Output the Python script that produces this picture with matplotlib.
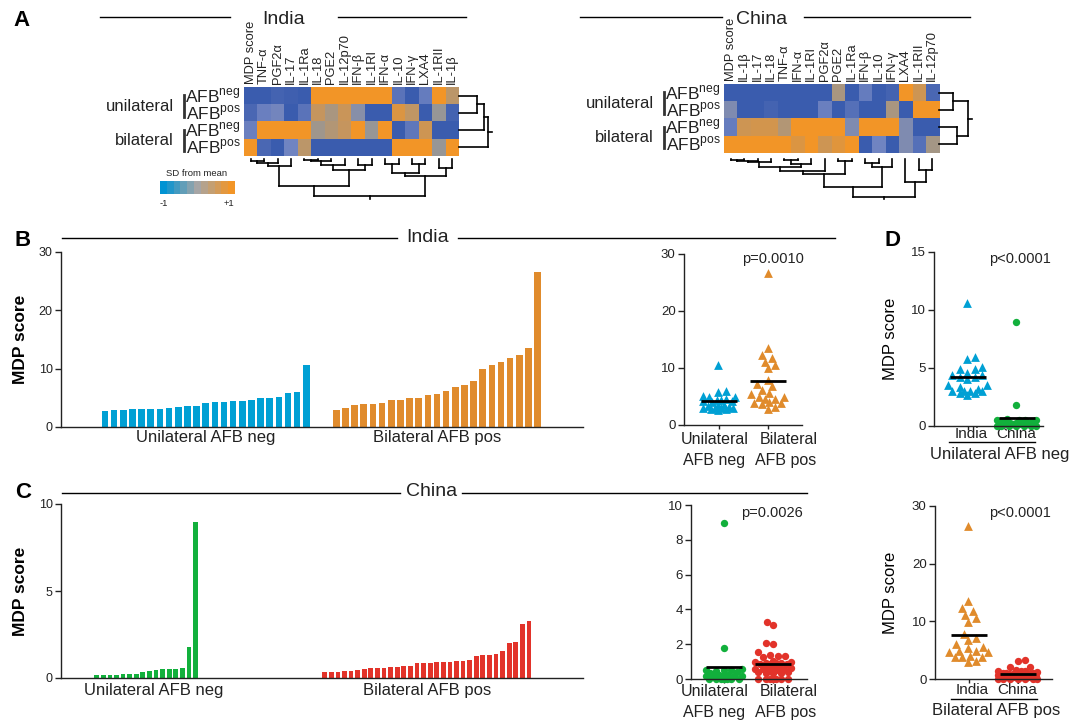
import numpy as np
import matplotlib
matplotlib.use('Agg')
import matplotlib.pyplot as plt
from matplotlib.colors import LinearSegmentedColormap
from matplotlib.transforms import blended_transform_factory

plt.rcParams['font.family'] = ['Liberation Sans', 'DejaVu Sans']
plt.rcParams['mathtext.fontset'] = 'custom'
plt.rcParams['mathtext.rm'] = 'Liberation Sans'
plt.rcParams['text.color'] = '#222222'

W, H = 1084, 721
INK = '#222222'

# ---- heatmap data (SD from mean) ----
row_sides = ['unilateral', 'bilateral']
row_afb = ['neg', 'pos', 'neg', 'pos']

india_cols = ['MDP score', 'TNF-α', 'PGF2α', 'IL-17', 'IL-1Ra', 'IL-18', 'PGE2', 'IL-12p70',
              'IFN-β', 'IL-1RI', 'IFN-α', 'IL-10', 'IFN-γ', 'LXA4', 'IL-1RII', 'IL-1β']
india_uni_neg = [-1, -1, -0.9, -0.95, -1, 1, 1, 1, 1, 1, 1, -0.7, -1, -0.6, 1, 0.4]
india_uni_pos = [-0.85, -0.55, -0.45, -1, -0.7, 0.5, 0.2, 0.55, -0.2, -1, -1, 0.75, 0.45, -1, 0.0, -0.9]
india_bi_neg = [-0.55, 1, 1, 1, 1, 0.1, 0.3, 0.5, 1, 0.0, 1, -1, -0.65, 0.6, -1, -1]
india_bi_pos = [1, -0.85, -1, -0.5, 0.4, -1, -1, -1, -1, -1, -1, 1, 1, 1, 0.0, 1]

china_cols = ['MDP score', 'IL-1β', 'IL-17', 'IL-18', 'TNF-α', 'IFN-α', 'IL-1RI', 'PGF2α',
              'PGE2', 'IL-1Ra', 'IFN-β', 'IL-10', 'IFN-γ', 'LXA4', 'IL-1RII', 'IL-12p70']
china_uni_neg = [-1, -1, -1, -1, -1, -1, -1, -1, 0.2, -1, -0.6, -1, -0.9, 1, 0.6, -0.85]
china_uni_pos = [-0.3, -1, -1, -0.9, -1, -1, -1, -0.55, -1, -0.75, -1, -1, 0.2, -1, 1, 1]
china_bi_neg = [-0.6, 0.6, 0.65, 0.65, 0.3, 1, 1, 1, 1, -0.3, 1, 1, 1, -0.3, -1, -1]
china_bi_pos = [1, 1, 1, 1, 1, 0.75, 1, 0.6, 0.8, 1, -1, -0.5, -1, -0.3, -0.75, 0.15]

# cluster trees: [left, right, height]
india_col_tree = [[[[0, 1, 5], 2, 12], 3, 20],
                  [[[[4, 5, 2], 6, 5], 7, 17], [8, 9, 17], 32], 82]
india_col_tree = [india_col_tree, [[[10, 11, 14], [12, 13, 14], 42], [14, 15, 27], 52], 112]
india_row_tree = [[[0, 1, 53], 2, 76], 3, 88]

china_left = [[[[[[0, 1, 3], 2, 6], 3, 10], [[4, 5, 3], 6, 16], 25], 7, 35], [8, 9, 6], 46]
china_col_tree = [[china_left, [[10, 11, 11], 12, 25], 85], [13, [14, 15, 33], 68], 113]
china_row_tree = [[0, 1, 43], [2, 3, 53], 88]

# ---- MDP scores per patient ----
india_uni_neg_mdp = [2.7, 2.87, 2.87, 3.04, 3.04, 3.04, 3.04, 3.2, 3.4, 3.56, 3.56, 4.07,
                     4.25, 4.25, 4.4, 4.4, 4.6, 4.93, 4.93, 5.1, 5.8, 5.97, 10.6]
india_bi_pos_mdp = [2.87, 3.2, 3.73, 3.9, 3.9, 4.07, 4.6, 4.6, 4.93, 4.93, 5.45, 5.6,
                    6.14, 6.83, 7.17, 7.86, 9.93, 10.6, 11.13, 11.82, 12.33, 13.54, 26.6]
china_uni_neg_mdp = [0.19, 0.19, 0.19, 0.19, 0.25, 0.25, 0.25, 0.37, 0.42, 0.48, 0.54,
                     0.54, 0.54, 0.6, 1.81, 8.96]
china_bi_pos_mdp = [0.37, 0.37, 0.37, 0.42, 0.42, 0.48, 0.54, 0.6, 0.6, 0.6, 0.65, 0.65,
                    0.71, 0.71, 0.88, 0.88, 0.88, 0.94, 0.94, 0.94, 1.0, 1.0, 1.06, 1.29,
                    1.35, 1.35, 1.4, 1.58, 2.04, 2.06, 3.08, 3.25]
# China patients scoring zero (no visible bar, but plotted as dots at 0)
china_uni_neg_zero = [0, 0, 0, 0, 0, 0, 0]
china_bi_pos_zero = [0, 0, 0, 0, 0, 0, 0]

p_b, p_c, p_d1, p_d2 = 'p=0.0010', 'p=0.0026', 'p<0.0001', 'p<0.0001'

BLUE, ORANGE, GREEN, RED = '#00a0d4', '#e08b2c', '#12b03c', '#e2332a'

heat_cmap = LinearSegmentedColormap.from_list(
    'hm', [(0, '#3a5cae'), (0.25, '#7084c2'), (0.5, '#979797'), (1, '#f29527')])
legend_cmap = LinearSegmentedColormap.from_list('lg', ['#0093d3', '#a6a6a6', '#f29527'])

fig = plt.figure(figsize=(W / 100, H / 100), dpi=100)
ax0 = fig.add_axes([0, 0, 1, 1])
ax0.set_xlim(0, W)
ax0.set_ylim(H, 0)
ax0.axis('off')


def px_rect(x0, y0, x1, y1):
    return [x0 / W, 1 - y1 / H, (x1 - x0) / W, (y1 - y0) / H]


def style(ax, fs=9):
    for s in ['top', 'right']:
        ax.spines[s].set_visible(False)
    for s in ['left', 'bottom']:
        ax.spines[s].set_linewidth(1.0)
        ax.spines[s].set_color(INK)
    ax.tick_params(direction='out', length=4, width=1, labelsize=fs, color=INK,
                   labelcolor=INK, pad=2)
    ax.patch.set_visible(False)


def draw_tree(ax, node, orient, stub):
    def rec(n):
        if isinstance(n, int):
            return n + 0.5, 0
        l, r, h = n
        pl, hl = rec(l)
        pr, hr = rec(r)
        for a, b in [([pl, pl], [hl, h]), ([pr, pr], [hr, h]), ([pl, pr], [h, h])]:
            if orient == 'down':
                ax.plot(a, b, color='black', lw=1.2, clip_on=False, solid_capstyle='projecting')
            else:
                ax.plot(b, a, color='black', lw=1.2, clip_on=False, solid_capstyle='projecting')
        return (pl + pr) / 2, h
    p, h = rec(node)
    if orient == 'down':
        ax.plot([p, p], [h, h + stub], color='black', lw=1.2, clip_on=False)
    else:
        ax.plot([h, h + stub], [p, p], color='black', lw=1.2, clip_on=False)


def heat_panel(x0, y0, x1, y1, z, cols, col_tree, row_tree):
    ax = fig.add_axes(px_rect(x0, y0, x1, y1))
    ax.imshow(np.array(z), cmap=heat_cmap, vmin=-1, vmax=1, aspect='auto',
              extent=(0, len(cols), 4, 0), interpolation='nearest')
    ax.set_xlim(0, len(cols))
    ax.set_ylim(4, 0)
    ax.axis('off')
    cw = (x1 - x0) / len(cols)
    rh = (y1 - y0) / 4
    for j, c in enumerate(cols):
        ax0.text(x0 + (j + 0.5) * cw, y0 - 3, c, rotation=90, ha='center', va='bottom', fontsize=9.3)
    for i, s in enumerate(row_afb):
        ax0.text(x0 - 3, y0 + (i + 0.5) * rh, r'$\mathrm{AFB}^{\mathrm{%s}}$' % s,
                 ha='right', va='center', fontsize=12.5)
    for k, name in enumerate(row_sides):
        yt, yb = y0 + 2 * k * rh, y0 + (2 * k + 2) * rh
        ax0.plot([x0 - 60, x0 - 60], [yt + 8, yb - 5], color='#333333', lw=2)
        ax0.text(x0 - 70, (yt + yb) / 2 + 2, name, ha='right', va='center', fontsize=12)
    axd = fig.add_axes(px_rect(x0, 159, x1, 199))
    draw_tree(axd, col_tree, 'down', 7)
    axd.set_xlim(0, len(cols))
    axd.set_ylim(120, 0)
    axd.axis('off')
    axr = fig.add_axes(px_rect(x1, y0, x1 + 34, y1))
    draw_tree(axr, row_tree, 'right', 12)
    axr.set_ylim(4, 0)
    axr.set_xlim(0, 102)
    axr.axis('off')


heat_panel(244, 87, 459, 156, [india_uni_neg, india_uni_pos, india_bi_neg, india_bi_pos],
           india_cols, india_col_tree, india_row_tree)
heat_panel(724, 84, 939, 153, [china_uni_neg, china_uni_pos, china_bi_neg, china_bi_pos],
           china_cols, china_col_tree, china_row_tree)

# colour legend
cb = fig.add_axes(px_rect(160, 181, 235, 194))
cb.imshow(np.linspace(-1, 1, 11)[None, :], cmap=legend_cmap, aspect='auto', interpolation='nearest')
cb.axis('off')
ax0.text(197, 173, 'SD from mean', fontsize=6.8, ha='center', va='center')
ax0.text(164, 203, '-1', fontsize=6.8, ha='center', va='center')
ax0.text(229, 203, '+1', fontsize=6.8, ha='center', va='center')


def title_line(xl, xr, xc, y, txt, gap_l, gap_r, ty):
    ax0.plot([xl, gap_l], [y, y], color='black', lw=1)
    ax0.plot([gap_r, xr], [y, y], color='black', lw=1)
    ax0.text(xc, ty, txt, fontsize=14, ha='center', va='center')


title_line(100, 466, 284, 17, 'India', 230, 338, 19)
title_line(580, 970, 762, 17, 'China', 722, 804, 19)
title_line(62, 835, 428, 238, 'India', 397, 458, 237)
title_line(62, 807, 432, 493, 'China', 400, 462, 492)

for lab, (x, y) in zip('ABCD', [(22, 21), (23, 241), (23, 492), (892, 241)]):
    ax0.text(x, y, lab, fontsize=16, fontweight='bold', ha='center', va='center', color='black')


def bar_panel(rect, vals_a, vals_b, start_b, xlim, col_a, col_b, ylim, yticks, labs, lab_dy, shift_a):
    ax = fig.add_axes(px_rect(*rect))
    xa = np.arange(len(vals_a))
    xb = start_b + np.arange(len(vals_b))
    ax.bar(xa, vals_a, width=0.72, color=col_a)
    ax.bar(xb, vals_b, width=0.72, color=col_b)
    ax.set_xlim(*xlim)
    ax.set_ylim(*ylim)
    ax.set_yticks(yticks)
    ax.set_xticks([])
    style(ax, 9)
    ax.set_ylabel('MDP score', fontsize=12.5, fontweight='bold')
    ax.yaxis.set_label_coords((28 - rect[0]) / (rect[2] - rect[0]), 0.5)
    tb = blended_transform_factory(ax.transData, ax.transAxes)
    h = rect[3] - rect[1]
    ax.text(xa.mean() + shift_a, -lab_dy / h, labs[0], transform=tb, ha='center', va='center', fontsize=12)
    ax.text(xb.mean(), -lab_dy / h, labs[1], transform=tb, ha='center', va='center', fontsize=12)
    return ax


bar_panel((61, 252, 583, 427), india_uni_neg_mdp, india_bi_pos_mdp, 25.28, (-4.81, 52.24),
          BLUE, ORANGE, (0, 30), [0, 10, 20, 30], ['Unilateral AFB neg', 'Bilateral AFB pos'], 11, 0)
bar_panel((61, 504, 583, 678), china_uni_neg_mdp, china_bi_pos_mdp, 34.6, (-5.42, 73.8),
          GREEN, RED, (0, 10), [0, 5, 10], ['Unilateral AFB neg', 'Bilateral AFB pos'], 12, 1.2)


def swarm_x(ax, xc, vals, d, maxw):
    tr = ax.transData
    x0 = tr.transform((xc, 0))[0]
    ppu = tr.transform((xc + 1, 0))[0] - x0
    ys = [tr.transform((xc, v))[1] for v in vals]
    cands = sorted(np.arange(-maxw, maxw + 0.01, 1.5), key=lambda o: (abs(o), o))
    placed = []
    xs = np.zeros(len(vals))
    for i in np.argsort(vals):
        y = ys[i]
        best, best_d = 0.0, -1
        for off in cands:
            md = min([np.hypot(off - px, y - py) for px, py in placed] or [1e9])
            if md >= d * 0.9:
                best = off
                break
            if md > best_d + 0.5:
                best, best_d = off, md
        placed.append((best, y))
        xs[i] = xc + best / ppu
    return xs


def dot_panel(rect, groups, colors, markers, xlim, ylim, yticks, maxw):
    ax = fig.add_axes(px_rect(*rect))
    ax.set_xlim(*xlim)
    ax.set_ylim(*ylim)
    for i, (v, c, m) in enumerate(zip(groups, colors, markers)):
        d = 8.0 if m == '^' else 7.0
        s = 40 if m == '^' else 28
        xs = swarm_x(ax, i, v, d, maxw)
        ax.scatter(xs, v, s=s, marker=m, color=c, linewidths=0, zorder=2, clip_on=False)
        mu = np.mean(v)
        ax.plot([i - 0.37, i + 0.37], [mu, mu], color='black', lw=2, zorder=3,
                solid_capstyle='butt', clip_on=False)
    ax.set_xticks(range(len(groups)))
    ax.set_xticklabels([])
    ax.set_yticks(yticks)
    style(ax, 9.5)
    ax.tick_params(axis='x', length=3)
    return ax


china_uni_all = china_uni_neg_zero + china_uni_neg_mdp
china_bi_all = china_bi_pos_zero + china_bi_pos_mdp

dot_panel((684, 254, 802, 425), [india_uni_neg_mdp, india_bi_pos_mdp], [BLUE, ORANGE], ['^', '^'],
          (-0.71, 1.69), (0, 30), [0, 10, 20, 30], 17)
ax0.text(773, 259, p_b, fontsize=10.5, ha='center', va='center')

dot_panel((691, 505, 807, 679), [china_uni_all, china_bi_all], [GREEN, RED], ['o', 'o'],
          (-0.67, 1.69), (0, 10), [0, 2, 4, 6, 8, 10], 18)
ax0.text(772, 513, p_c, fontsize=10.5, ha='center', va='center')

for y1, y2 in [(440, 461), (692, 713)]:
    ax0.text(715, y1, 'Unilateral', fontsize=11.5, ha='center', va='center')
    ax0.text(714, y2, 'AFB neg', fontsize=11.5, ha='center', va='center')
    ax0.text(789, y1, 'Bilateral', fontsize=11.5, ha='center', va='center')
    ax0.text(786, y2, 'AFB pos', fontsize=11.5, ha='center', va='center')

ad1 = dot_panel((934, 252, 1043, 426), [india_uni_neg_mdp, china_uni_all], [BLUE, GREEN], ['^', 'o'],
                (-0.69, 1.53), (0, 15), [0, 5, 10, 15], 20)
ad1.set_ylabel('MDP score', fontsize=12)
ad1.yaxis.set_label_coords((898 - 934) / 109, 0.5)
ax0.text(1020, 259, p_d1, fontsize=10.5, ha='center', va='center')
ax0.text(971, 434, 'India', fontsize=11, ha='center', va='center')
ax0.text(1016, 434, 'China', fontsize=11, ha='center', va='center')
ax0.plot([949, 1035], [442, 442], color='black', lw=1)
ax0.text(1000, 454, 'Unilateral AFB neg', fontsize=12, ha='center', va='center')

ad2 = dot_panel((935, 506, 1052, 679), [india_bi_pos_mdp, china_bi_all], [ORANGE, RED], ['^', 'o'],
                (-0.69, 1.69), (0, 30), [0, 10, 20, 30], 20)
ad2.set_ylabel('MDP score', fontsize=12)
ad2.yaxis.set_label_coords((898 - 935) / 117, 0.5)
ax0.text(1020, 513, p_d2, fontsize=10.5, ha='center', va='center')
ax0.text(972, 690, 'India', fontsize=11, ha='center', va='center')
ax0.text(1017, 690, 'China', fontsize=11, ha='center', va='center')
ax0.plot([951, 1037], [699, 699], color='black', lw=1)
ax0.text(996, 711, 'Bilateral AFB pos', fontsize=12, ha='center', va='center')

fig.savefig('out.png', dpi=100)
